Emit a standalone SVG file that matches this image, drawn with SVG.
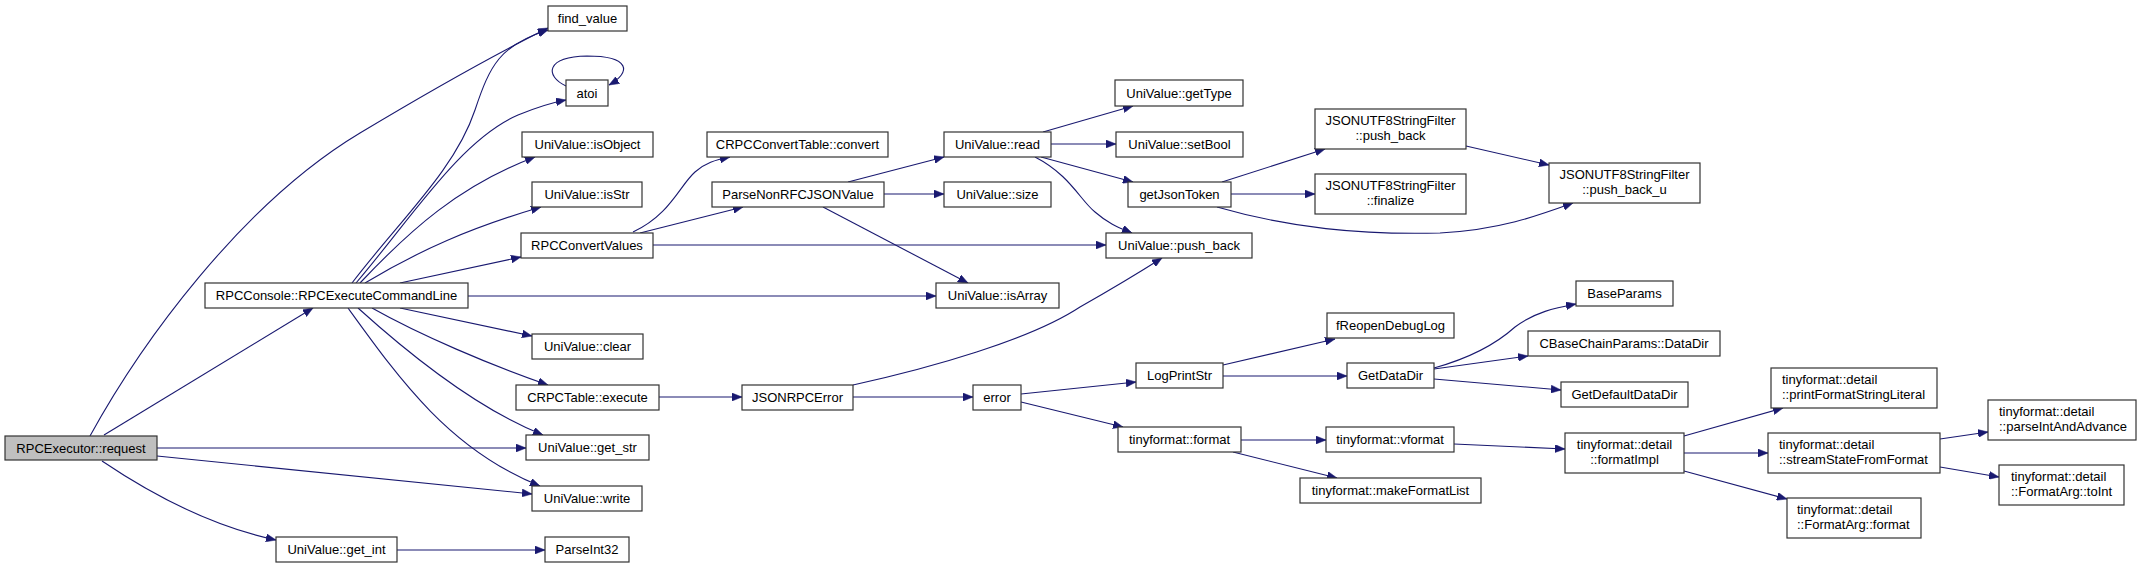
<svg xmlns="http://www.w3.org/2000/svg" width="2141" height="568" viewBox="0 0 2141 568">
<defs>
<marker id="ah" markerUnits="userSpaceOnUse" markerWidth="11" markerHeight="8" refX="10" refY="4" orient="auto">
<path d="M0,0 L10,4 L0,8 z" fill="#191970" stroke="#191970" stroke-width="0.5"/>
</marker>
<style>
.n rect{fill:#ffffff;stroke:#333333;stroke-width:1.2}
.n.root rect{fill:#bfbfbf}
.n text{font-family:"Liberation Sans",Arial,sans-serif;font-size:13px;fill:#000000;text-anchor:middle}
.n text.l{text-anchor:start}
#edges path{fill:none;stroke:#191970;stroke-width:1.1;marker-end:url(#ah)}
</style>
</defs>
<rect width="2141" height="568" fill="#ffffff"/>
<g id="edges">
<path d="M90,436 C140,345 240,205 360,133 C420,97 480,62 548,28"/>
<path d="M104,435 L313,308"/>
<path d="M157,448 L526,448"/>
<path d="M157,456 L532,494"/>
<path d="M102,461 C145,490 205,525 276,540"/>
<path d="M352,283 C400,220 455,170 475,110 C490,65 500,45 548,30"/>
<path d="M356,283 C410,220 460,140 518,115 C535,108 550,103 566,100"/>
<path d="M360,283 C410,230 460,185 535,157"/>
<path d="M365,283 C420,250 470,228 541,207"/>
<path d="M400,283 L521,257"/>
<path d="M468,296 L936,296"/>
<path d="M400,308 L532,336"/>
<path d="M372,308 C420,335 490,365 548,385"/>
<path d="M358,308 C410,355 480,410 543,435"/>
<path d="M348,308 C400,380 450,450 540,486"/>
<path d="M633,232 C670,215 680,185 695,172 C705,163 715,160 730,157"/>
<path d="M640,233 L743,207"/>
<path d="M653,245 L1106,245"/>
<path d="M848,182 L944,157"/>
<path d="M884,194 L944,194"/>
<path d="M823,207 L968,283"/>
<path d="M1043,132 L1133,106"/>
<path d="M1051,144 L1116,144"/>
<path d="M1041,157 L1133,182"/>
<path d="M1035,157 C1070,175 1080,200 1095,212 C1110,225 1120,228 1132,233"/>
<path d="M1222,182 L1325,149"/>
<path d="M1231,194 L1315,194"/>
<path d="M1217,207 C1290,228 1360,235 1440,233 C1500,230 1540,215 1573,203"/>
<path d="M1466,146 L1549,165"/>
<path d="M659,397 L742,397"/>
<path d="M853,385 C930,368 1030,340 1080,307 C1110,290 1140,272 1162,258"/>
<path d="M853,397 L973,397"/>
<path d="M1021,394 L1136,382"/>
<path d="M1021,402 L1123,427"/>
<path d="M1223,365 L1335,339"/>
<path d="M1223,376 L1347,376"/>
<path d="M1434,368 C1470,358 1495,345 1515,327 C1535,312 1555,308 1576,304"/>
<path d="M1434,369 L1528,356"/>
<path d="M1434,379 L1561,390"/>
<path d="M1241,440 L1326,440"/>
<path d="M1233,452 L1337,478"/>
<path d="M1454,444 L1565,449"/>
<path d="M1684,436 L1783,408"/>
<path d="M1684,453 L1768,453"/>
<path d="M1684,471 L1787,499"/>
<path d="M1940,439 L1988,432"/>
<path d="M1940,467 L1999,477"/>
<path d="M397,550 L545,550"/>
<path d="M566,86 C545,76 545,57 587,56 C630,56 632,72 609,85"/>
</g>
<g id="n0" class="n root"><rect x="5" y="436" width="152" height="24"/><text x="81" y="452.5">RPCExecutor::request</text></g>
<g id="n1" class="n"><rect x="205" y="283" width="263" height="25"/><text x="336.5" y="300">RPCConsole::RPCExecuteCommandLine</text></g>
<g id="n2" class="n"><rect x="548" y="6" width="79" height="25"/><text x="587.5" y="23">find_value</text></g>
<g id="n3" class="n"><rect x="566" y="80" width="42" height="26"/><text x="587" y="97.5">atoi</text></g>
<g id="n4" class="n"><rect x="522" y="132" width="131" height="25"/><text x="587.5" y="149">UniValue::isObject</text></g>
<g id="n5" class="n"><rect x="532" y="182" width="110" height="25"/><text x="587" y="199">UniValue::isStr</text></g>
<g id="n6" class="n"><rect x="521" y="233" width="132" height="25"/><text x="587" y="250">RPCConvertValues</text></g>
<g id="n7" class="n"><rect x="532" y="334" width="111" height="25"/><text x="587.5" y="351">UniValue::clear</text></g>
<g id="n8" class="n"><rect x="516" y="385" width="143" height="25"/><text x="587.5" y="402">CRPCTable::execute</text></g>
<g id="n9" class="n"><rect x="526" y="435" width="123" height="25"/><text x="587.5" y="452">UniValue::get_str</text></g>
<g id="n10" class="n"><rect x="532" y="486" width="110" height="25"/><text x="587" y="503">UniValue::write</text></g>
<g id="n11" class="n"><rect x="276" y="537" width="121" height="25"/><text x="336.5" y="554">UniValue::get_int</text></g>
<g id="n12" class="n"><rect x="545" y="537" width="84" height="25"/><text x="587" y="554">ParseInt32</text></g>
<g id="n13" class="n"><rect x="707" y="132" width="181" height="25"/><text x="797.5" y="149">CRPCConvertTable::convert</text></g>
<g id="n14" class="n"><rect x="712" y="182" width="172" height="25"/><text x="798" y="199">ParseNonRFCJSONValue</text></g>
<g id="n15" class="n"><rect x="944" y="132" width="107" height="25"/><text x="997.5" y="149">UniValue::read</text></g>
<g id="n16" class="n"><rect x="944" y="182" width="107" height="25"/><text x="997.5" y="199">UniValue::size</text></g>
<g id="n17" class="n"><rect x="936" y="283" width="123" height="25"/><text x="997.5" y="300">UniValue::isArray</text></g>
<g id="n18" class="n"><rect x="742" y="385" width="111" height="25"/><text x="797.5" y="402">JSONRPCError</text></g>
<g id="n19" class="n"><rect x="973" y="385" width="48" height="25"/><text x="997" y="402">error</text></g>
<g id="n20" class="n"><rect x="1115" y="80" width="128" height="26"/><text x="1179" y="97.5">UniValue::getType</text></g>
<g id="n21" class="n"><rect x="1116" y="132" width="127" height="25"/><text x="1179.5" y="149">UniValue::setBool</text></g>
<g id="n22" class="n"><rect x="1128" y="182" width="103" height="25"/><text x="1179.5" y="199">getJsonToken</text></g>
<g id="n23" class="n"><rect x="1106" y="233" width="146" height="25"/><text x="1179" y="250">UniValue::push_back</text></g>
<g id="n24" class="n"><rect x="1315" y="109" width="151" height="40"/><text x="1390.5" y="125">JSONUTF8StringFilter</text><text x="1390.5" y="140">::push_back</text></g>
<g id="n25" class="n"><rect x="1315" y="174" width="151" height="40"/><text x="1390.5" y="190">JSONUTF8StringFilter</text><text x="1390.5" y="205">::finalize</text></g>
<g id="n26" class="n"><rect x="1549" y="163" width="151" height="40"/><text x="1624.5" y="179">JSONUTF8StringFilter</text><text x="1624.5" y="194">::push_back_u</text></g>
<g id="n27" class="n"><rect x="1136" y="363" width="87" height="25"/><text x="1179.5" y="380">LogPrintStr</text></g>
<g id="n28" class="n"><rect x="1327" y="313" width="127" height="25"/><text x="1390.5" y="330">fReopenDebugLog</text></g>
<g id="n29" class="n"><rect x="1347" y="363" width="87" height="25"/><text x="1390.5" y="380">GetDataDir</text></g>
<g id="n30" class="n"><rect x="1576" y="281" width="97" height="25"/><text x="1624.5" y="298">BaseParams</text></g>
<g id="n31" class="n"><rect x="1528" y="331" width="192" height="25"/><text x="1624" y="348">CBaseChainParams::DataDir</text></g>
<g id="n32" class="n"><rect x="1561" y="382" width="127" height="25"/><text x="1624.5" y="399">GetDefaultDataDir</text></g>
<g id="n33" class="n"><rect x="1118" y="427" width="123" height="25"/><text x="1179.5" y="444">tinyformat::format</text></g>
<g id="n34" class="n"><rect x="1326" y="427" width="128" height="25"/><text x="1390" y="444">tinyformat::vformat</text></g>
<g id="n35" class="n"><rect x="1300" y="478" width="181" height="25"/><text x="1390.5" y="495">tinyformat::makeFormatList</text></g>
<g id="n36" class="n"><rect x="1565" y="433" width="119" height="40"/><text x="1624.5" y="449">tinyformat::detail</text><text x="1624.5" y="464">::formatImpl</text></g>
<g id="n37" class="n"><rect x="1771" y="368" width="166" height="40"/><text class="l" x="1782" y="384">tinyformat::detail</text><text class="l" x="1782" y="399">::printFormatStringLiteral</text></g>
<g id="n38" class="n"><rect x="1768" y="433" width="172" height="40"/><text class="l" x="1779" y="449">tinyformat::detail</text><text class="l" x="1779" y="464">::streamStateFromFormat</text></g>
<g id="n39" class="n"><rect x="1787" y="498" width="134" height="40"/><text class="l" x="1797" y="514">tinyformat::detail</text><text class="l" x="1797" y="529">::FormatArg::format</text></g>
<g id="n40" class="n"><rect x="1988" y="400" width="148" height="40"/><text class="l" x="1999" y="416">tinyformat::detail</text><text class="l" x="1999" y="431">::parseIntAndAdvance</text></g>
<g id="n41" class="n"><rect x="1999" y="465" width="125" height="40"/><text class="l" x="2011" y="481">tinyformat::detail</text><text class="l" x="2011" y="496">::FormatArg::toInt</text></g>
</svg>
